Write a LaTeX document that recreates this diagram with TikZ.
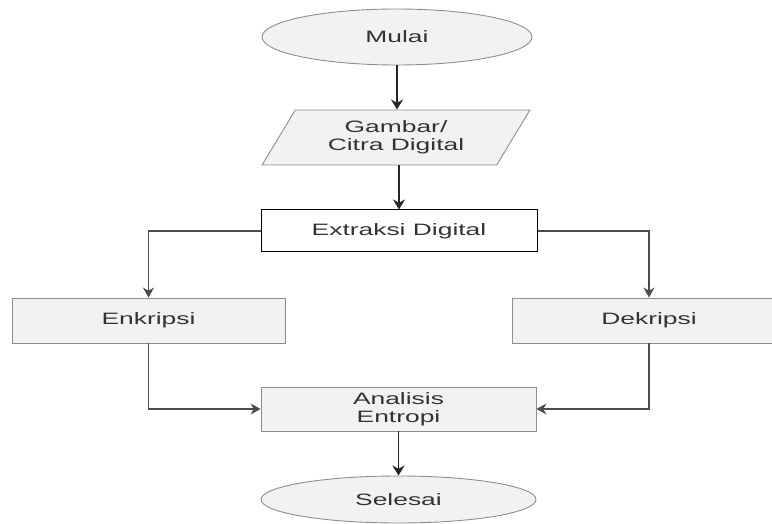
\documentclass[tikz,border=0pt]{standalone}
\usepackage{fontspec}
\setmainfont{Liberation Sans}
\usetikzlibrary{shapes.geometric,arrows.meta,positioning}
\definecolor{boxfill}{HTML}{F2F2F2}
\definecolor{boxline}{HTML}{8E8E8E}
\definecolor{txt}{HTML}{333333}
\newcommand{\wtext}[1]{\scalebox{1.6}[1]{#1}}

\begin{document}
\begin{tikzpicture}[x=1pt,y=-1pt,
  base/.style = {draw=boxline,fill=boxfill,text=txt,font=\fontsize{16.5}{19}\selectfont,align=center,inner sep=0pt,line width=0.9pt},
  term/.style = {base,ellipse},
  io/.style = {base,trapezium,trapezium left angle=56,trapezium right angle=124,trapezium stretches=true},
  proc/.style = {base,rectangle},
  arrow/.style = {line width=1.7pt,draw=black!85,-{Stealth[length=10pt,width=12pt]}},
  link/.style = {line width=1.1pt,draw=black!70,-{Stealth[length=10pt,width=11pt]}}]
  \clip (0,0) rectangle (772,524);

  \node[term,minimum width=270pt,minimum height=56pt] (start) at (397,37) {\wtext{Mulai}};
  \node[io,minimum width=268pt,minimum height=55pt] (input) at (396,137.5) {\wtext{Gambar/}\\[-1pt]\wtext{Citra Digital}};
  \node[proc,draw=black,fill=white,line width=1pt,minimum width=276pt,minimum height=42pt] (extract) at (399,231) {\wtext{Extraksi Digital}};
  \node[proc,minimum width=273pt,minimum height=45pt] (enc) at (148.5,320.5) {\wtext{Enkripsi}};
  \node[proc,minimum width=273pt,minimum height=45pt] (dec) at (649,320.5) {\wtext{Dekripsi}};
  \node[proc,minimum width=275pt,minimum height=44pt] (ana) at (398.5,409) {\wtext{Analisis}\\[-1pt]\wtext{Entropi}};
  \node[term,minimum width=275pt,minimum height=47pt] (stop) at (398.5,499.5) {\wtext{Selesai}};

  % connectors
  \draw[arrow] (start.south) -- (start.south |- input.north);
  \draw[arrow] (extract.north |- input.south) -- (extract.north);
  \draw[link] (extract.west) -| (enc.north);
  \draw[link] (extract.east) -| (dec.north);
  \draw[link] (enc.south) |- (ana.west);
  \draw[link] (dec.south) |- (ana.east);
  \draw[arrow] (ana.south) -- (stop.north);
\end{tikzpicture}
\end{document}
